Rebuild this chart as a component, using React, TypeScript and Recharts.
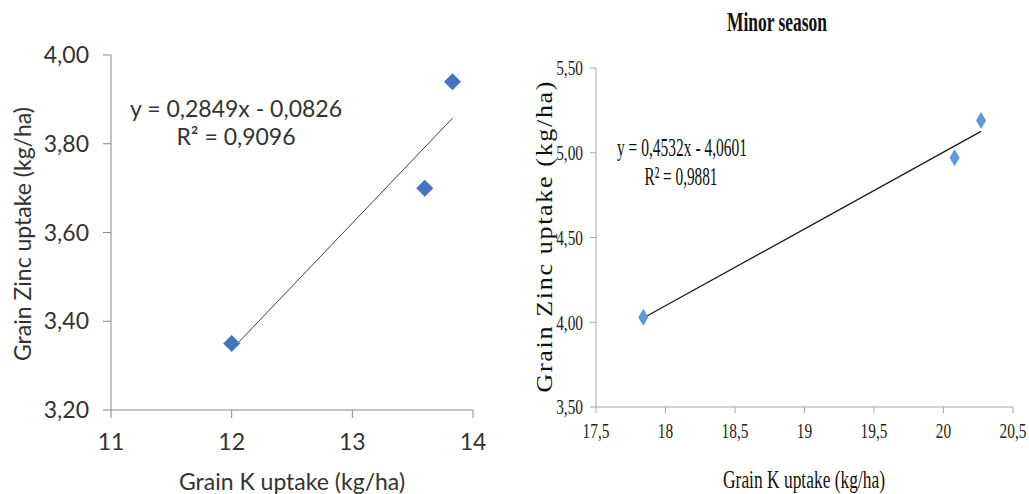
import React from "react";
import { ScatterChart, Scatter, XAxis, YAxis, Label } from "recharts";

// Major season (left panel)
const majorK = [12.0, 13.6, 13.83];
const majorZn = [3.35, 3.7, 3.94];
const majorSlope = 0.2849;
const majorIntercept = -0.0826;
const majorR2 = "0,9096";
const majorXTicks = [11, 12, 13, 14];
const majorYTicks = [3.2, 3.4, 3.6, 3.8, 4.0];

// Minor season (right panel)
const minorK = [17.84, 20.08, 20.27];
const minorZn = [4.03, 4.97, 5.19];
const minorSlope = 0.4532;
const minorIntercept = -4.0601;
const minorR2 = "0,9881";
const minorXTicks = [17.5, 18, 18.5, 19, 19.5, 20, 20.5];
const minorYTicks = [3.5, 4.0, 4.5, 5.0, 5.5];

const comma = (v: number, digits?: number) =>
  (digits === undefined ? String(v) : v.toFixed(digits)).replace(".", ",");

const points = (xs: number[], ys: number[]) => xs.map((x, i) => ({ x, y: ys[i] }));

const trend = (xs: number[], slope: number, intercept: number) => {
  const lo = Math.min(...xs);
  const hi = Math.max(...xs);
  return [lo, hi].map((x) => ({ x, y: slope * x + intercept }));
};

const eqText = (slope: number, intercept: number) =>
  `y = ${comma(slope, 4)}x - ${comma(Math.abs(intercept), 4)}`;

const SANS = "Lato, 'Open Sans', sans-serif";
const SERIF = "'Liberation Serif', 'Times New Roman', serif";

const diamond = (w: number, h: number, fill: string) => (p: any) => (
  <path
    d={`M${p.cx},${p.cy - h} L${p.cx + w},${p.cy} L${p.cx},${p.cy + h} L${p.cx - w},${p.cy} Z`}
    fill={fill}
  />
);

const noDot = () => <g />;

// Narrow serif ticks for the minor season panel
const SerifTickX = (p: any) => (
  <text
    transform={`translate(${p.x},${p.y}) scale(0.73,1)`}
    textAnchor="middle"
    dy="0.71em"
    fontFamily={SERIF}
    fontSize={21}
    fill="#222"
  >
    {comma(p.payload.value)}
  </text>
);

const SerifTickY = (p: any) => (
  <text
    transform={`translate(${p.x},${p.y}) scale(0.73,1)`}
    textAnchor="end"
    dy="0.355em"
    fontFamily={SERIF}
    fontSize={21}
    fill="#222"
  >
    {comma(p.payload.value, 2)}
  </text>
);

function MajorChart() {
  const tickStyle = { fontFamily: SANS, fontSize: 23, fill: "#333" };
  return (
    <ScatterChart width={490} height={494} margin={{ top: 55, right: 17, bottom: 54, left: 51 }}>
      <XAxis
        type="number"
        dataKey="x"
        domain={[11, 14]}
        ticks={majorXTicks}
        height={30}
        tickSize={8}
        tickMargin={16}
        stroke="#878787"
        tick={tickStyle}
      >
        <Label
          content={() => (
            <text x={292} y={490} textAnchor="middle" fontFamily={SANS} fontSize={23} fill="#333">
              Grain K uptake (kg/ha)
            </text>
          )}
        />
      </XAxis>
      <YAxis
        type="number"
        dataKey="y"
        domain={[3.2, 4.0]}
        ticks={majorYTicks}
        width={60}
        tickSize={8}
        tickMargin={14}
        stroke="#878787"
        tick={tickStyle}
        tickFormatter={(v: number) => comma(v, 2)}
      >
        <Label
          content={() => (
            <g fontFamily={SANS} fill="#333">
              <text
                transform="translate(31,234) rotate(-90)"
                textAnchor="middle"
                fontSize={23}
              >
                Grain Zinc uptake (kg/ha)
              </text>
              <text x={236} y={117} textAnchor="middle" fontSize={23}>
                {eqText(majorSlope, majorIntercept)}
              </text>
              <text x={236} y={145} textAnchor="middle" fontSize={23}>
                {`R² = ${majorR2}`}
              </text>
            </g>
          )}
        />
      </YAxis>
      <Scatter
        data={trend(majorK, majorSlope, majorIntercept)}
        line={{ stroke: "#404040", strokeWidth: 1 }}
        shape={noDot}
        isAnimationActive={false}
      />
      <Scatter
        data={points(majorK, majorZn)}
        fill="#4472C4"
        shape={diamond(8.5, 8.5, "#4472C4")}
        isAnimationActive={false}
      />
    </ScatterChart>
  );
}

function MinorChart() {
  return (
    <ScatterChart width={509} height={494} margin={{ top: 68, right: 16, bottom: 57, left: 16 }}>
      <XAxis
        type="number"
        dataKey="x"
        domain={[17.5, 20.5]}
        ticks={minorXTicks}
        height={30}
        tickSize={6}
        tickMargin={10}
        stroke="#a8a8a8"
        tick={<SerifTickX />}
      >
        <Label
          content={() => (
            <text
              x={284}
              y={488}
              textAnchor="middle"
              fontFamily={SERIF}
              fontSize={26}
              textLength={162}
              lengthAdjust="spacingAndGlyphs"
              fill="#111"
            >
              Grain K uptake (kg/ha)
            </text>
          )}
        />
      </XAxis>
      <YAxis
        type="number"
        dataKey="y"
        domain={[3.5, 5.5]}
        ticks={minorYTicks}
        width={60}
        tickSize={6}
        tickMargin={7}
        stroke="#a8a8a8"
        tick={<SerifTickY />}
      >
        <Label
          content={() => (
            <g fontFamily={SERIF} fill="#111">
              <text
                x={257}
                y={31}
                textAnchor="middle"
                fontSize={28}
                fontWeight="bold"
                textLength={100}
                lengthAdjust="spacingAndGlyphs"
              >
                Minor season
              </text>
              <text
                transform="translate(32,237) rotate(-90) scale(1,0.85)"
                textAnchor="middle"
                fontSize={26}
                textLength={311}
                lengthAdjust="spacing"
              >
                Grain Zinc  uptake (kg/ha)
              </text>
              <text
                x={162}
                y={156}
                textAnchor="middle"
                fontSize={26}
                textLength={130}
                lengthAdjust="spacingAndGlyphs"
              >
                {eqText(minorSlope, minorIntercept)}
              </text>
              <text
                x={161}
                y={185}
                textAnchor="middle"
                fontSize={26}
                textLength={73}
                lengthAdjust="spacingAndGlyphs"
              >
                {`R² = ${minorR2}`}
              </text>
            </g>
          )}
        />
      </YAxis>
      <Scatter
        data={trend(minorK, minorSlope, minorIntercept)}
        line={{ stroke: "#1a1a1a", strokeWidth: 1.3 }}
        shape={noDot}
        isAnimationActive={false}
      />
      <Scatter
        data={points(minorK, minorZn)}
        fill="#5B9BD5"
        shape={diamond(5, 8.5, "#5B9BD5")}
        isAnimationActive={false}
      />
    </ScatterChart>
  );
}

export default function App() {
  return (
    <div style={{ position: "absolute", top: 0, left: 0, width: 1029, height: 494, background: "#fff" }}>
      <div style={{ position: "absolute", left: 0, top: 0 }}>
        <MajorChart />
      </div>
      <div style={{ position: "absolute", left: 520, top: 0 }}>
        <MinorChart />
      </div>
    </div>
  );
}
